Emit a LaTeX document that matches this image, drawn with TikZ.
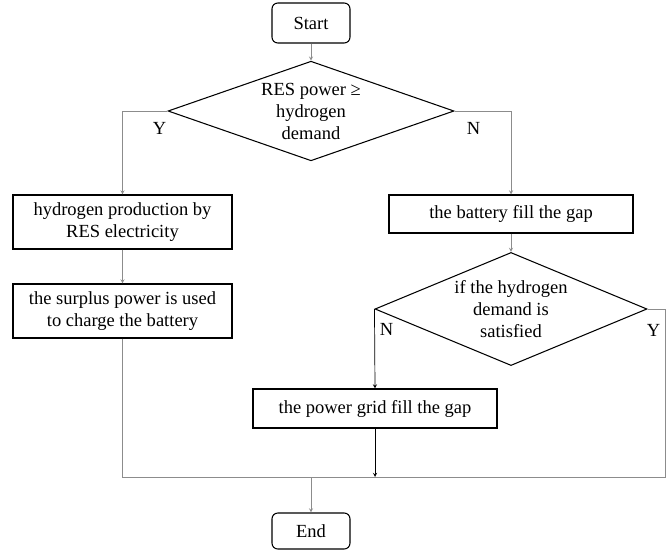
\documentclass[tikz,border=0pt]{standalone}
\usepackage{fontspec}
\setmainfont{Liberation Serif}
\usetikzlibrary{shapes.geometric, arrows}
\tikzstyle{startstop} = [rectangle, rounded corners=5pt,
minimum width=2.34cm,
minimum height=1.2cm,
text centered,
draw=black,
line width=0.9pt]
\tikzstyle{process} = [rectangle,
minimum width=6.57cm,
minimum height=1.62cm,
align=center,
draw=black,
line width=0.9pt]
\tikzstyle{decision} = [diamond,
minimum width=8.58cm,
minimum height=2.88cm,
inner sep=0pt,
draw=black,
line width=0.9pt]
\tikzstyle{coord} = [coordinate]
\tikzstyle{yn} = [inner sep=0pt]
\tikzstyle{arrow} = [->,>=stealth, black!45, line width=0.6pt]
\tikzstyle{darrow} = [->,>=stealth, black, line width=0.6pt]
\tikzstyle{line} = [black!45, line width=0.6pt]
\newcommand{\dectext}[1]{\smash{\raisebox{-0.2cm}{\begin{tabular}{@{}c@{}}#1\end{tabular}}}}

\begin{document}
\begin{tikzpicture} [node distance=2cm, auto, font=\fontsize{15.8}{18.7}\selectfont]
		\useasboundingbox (0,0) rectangle (20.1,-16.47);
		\node (start) [startstop] at (9.33,-0.69) {Start};
		\node (dec1) [decision, below of=start, node distance=2.64cm] {\dectext{RES power ≥\\ hydrogen\\ demand}};
		\node (pro1) [process, below of=dec1, node distance=3.33cm, xshift=-5.655cm] {hydrogen production by\\ RES electricity};
		\node (pro2) [process, below of=pro1, node distance=2.67cm] {the surplus power is used\\ to charge the battery};
		\node (pro3) [process, below of=dec1, node distance=3.09cm, xshift=6cm, minimum width=7.32cm, minimum height=1.14cm] {the battery fill the gap};
		\node (dec2) [decision, below of=pro3, node distance=2.85cm, minimum width=8.16cm, minimum height=2.85cm] {\dectext{if the hydrogen\\ demand is\\ satisfied}};
		\node (pro4) [process, below of=dec2, node distance=2.985cm, xshift=-4.08cm, minimum width=7.32cm, minimum height=1.17cm] {the power grid fill the gap};
		\node (end) [startstop, below of=start, node distance=15.24cm, minimum height=1.08cm] {End};
		\node (y1) [yn] at ([xshift=-0.24cm, yshift=-0.51cm]dec1.west) {Y};
		\node (n1) [yn] at ([xshift=0.57cm, yshift=-0.51cm]dec1.east) {N};
		\node (n2) [yn] at ([xshift=0.36cm, yshift=-0.6cm]dec2.west) {N};
		\node (y2) [yn] at ([xshift=0.18cm, yshift=-0.63cm]dec2.east) {Y};
		\coordinate (c1) at (pro2.south |- 0,-14.31);
		\coordinate (c2) at (19.95,-14.31);
		\coordinate (c3) at (pro4.south |- c1);
		\coordinate (c4) at (start.south |- c1);
		\draw [arrow] (start) -- (dec1);
		\draw [arrow] (dec1.west) -| (pro1.north);
		\draw [arrow] (dec1.east) -| (pro3.north);
		\draw [arrow] (pro1) -- (pro2);
		\draw [arrow] (pro3) -- (dec2);
		\draw [darrow] (dec2.west) -- (pro4.north);
		\draw [line] (pro2) -- (c1) -- (c2) |- (dec2.east);
		\draw [darrow] (pro4) -- (c3);
		\draw [arrow] (c4) -- (end);
	\end{tikzpicture}
\end{document}
